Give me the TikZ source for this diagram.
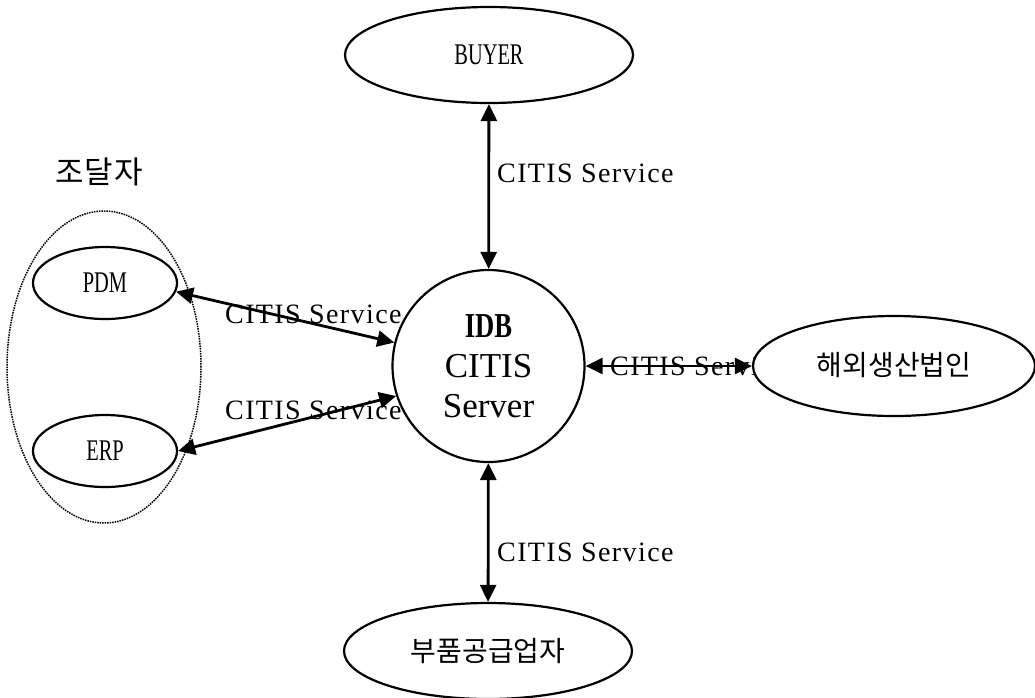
\documentclass[tikz,border=0pt]{standalone}
\usepackage{fontspec}
\usepackage{graphicx}
\usetikzlibrary{shapes.geometric,arrows.meta}
\setmainfont{Liberation Serif}
\newfontfamily\labfont[LetterSpace=5]{Liberation Serif}
\newfontfamily\krfont{Noto Sans CJK KR}
\newfontfamily\krwide[LetterSpace=3]{Noto Sans CJK KR}

\tikzset{
  entity/.style={ellipse, draw, line width=2.2pt, fill=white, inner sep=0pt},
  small/.style={entity, minimum width=144pt, minimum height=72pt,
                font=\fontsize{30}{32}\selectfont},
  big/.style={entity, minimum width=288pt, minimum height=96pt},
  server/.style={circle, draw, line width=2.2pt, fill=white, minimum size=192pt,
                 inner sep=0pt, align=center, font=\fontsize{35}{40}\selectfont},
  group/.style={ellipse, draw, densely dotted, line width=1.5pt,
                minimum width=194pt, minimum height=312pt, inner sep=0pt},
  conn/.style={line width=2.8pt, {Triangle[length=17pt,width=16pt]}-{Triangle[length=17pt,width=16pt]}},
  svc/.style={anchor=west, inner sep=0pt, font=\labfont\fontsize{28}{30}\selectfont},
  kr/.style={font=\krfont\fontsize{28}{30}\selectfont}
}
\newcommand{\cond}[1]{\scalebox{0.68}[1]{#1}}

\begin{document}
\begin{tikzpicture}[x=1pt,y=-1pt]
\useasboundingbox (0,0) rectangle (1035,697);

% procurement group
\node[group] (grp) at (104,367) {};
\node[font=\krwide\fontsize{31}{33}\selectfont] (grplabel) at (99,172) {조달자};
\node[small] (pdm) at (105,283) {\cond{PDM}};
\node[small] (erp) at (105,451) {\cond{ERP}};

% central server
\node[server] (srv) at (488.5,366) {\textbf{\scalebox{0.76}[1]{IDB}}\\CITIS\\Server};

% partners
\node[big, font=\fontsize{30}{32}\selectfont] (buyer) at (489,55) {\cond{BUYER}};
\node[big, kr] (supplier) at (488,651) {부품공급업자};

% connector labels
\node[svc] (lbuyer) at (497,173) {CITIS Service};
\node[svc] (lsupp) at (497,552) {CITIS Service};
\node[svc] (lpdm) at (225,314) {CITIS Service};
\node[svc] (lerp) at (225,410) {CITIS Service};
\node[svc] (labroad) at (610,366) {CITIS Service};

% service links
\draw[conn] (buyer) -- (srv);
\draw[conn] (srv) -- (supplier);
\draw[conn] (pdm.353) -- (srv.166);
\draw[conn] (erp.east) -- (srv.198);

% overseas production, drawn last so it covers the end of its label
\node[entity, minimum width=282pt, minimum height=100pt, kr] (abroad) at (894,366) {\raisebox{4pt}{해외생산법인}};
\draw[conn] (srv.east) -- (abroad.west);
\end{tikzpicture}
\end{document}
